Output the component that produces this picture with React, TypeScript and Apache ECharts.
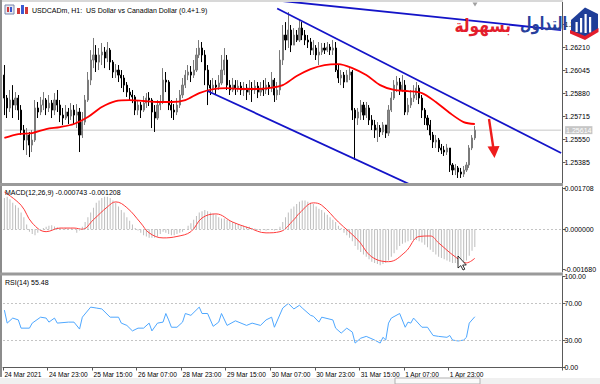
import React, { useEffect, useRef } from "react";
import * as echarts from "echarts";

const FONT = '"Liberation Sans", Arial, sans-serif';

const xTickLabels = ["24 Mar 2021", "24 Mar 23:00", "25 Mar 15:00", "26 Mar 07:00", "28 Mar 23:00", "29 Mar 15:00", "30 Mar 07:00", "30 Mar 23:00", "31 Mar 15:00", "1 Apr 07:00", "1 Apr 23:00"];
const priceTicks = [1.26375, 1.2621, 1.26045, 1.2588, 1.25715, 1.2555, 1.25385];
const macdTicks = [0.001708, 0, -0.00168];
const rsiTicks = [100, 70, 30, 0];
const bidPrice = 1.25614;

const firstOpen = 1.26009;
const closes = [
  1.25844, 1.25773, 1.2583, 1.25794, 1.25844, 1.25758, 1.25615, 1.25543, 1.25579, 1.25507,
  1.25543, 1.25773, 1.25744, 1.25794, 1.2583, 1.25773, 1.25808, 1.25758, 1.2583, 1.25794,
  1.25722, 1.25701, 1.25744, 1.25715, 1.25758, 1.25722, 1.25744, 1.25579, 1.25672, 1.2583,
  1.25973, 1.26117, 1.26153, 1.26102, 1.26153, 1.26174, 1.26131, 1.26188, 1.26102, 1.26031,
  1.26045, 1.26009, 1.25988, 1.25937, 1.25887, 1.25866, 1.25852, 1.25758, 1.25794, 1.25758,
  1.25808, 1.25844, 1.2583, 1.25744, 1.25701, 1.25794, 1.25816, 1.25973, 1.25959, 1.25794,
  1.25758, 1.25744, 1.25794, 1.25866, 1.25937, 1.26009, 1.26031, 1.26009, 1.26045, 1.26153,
  1.26203, 1.26153, 1.26045, 1.25937, 1.25916, 1.25937, 1.25923, 1.25952, 1.26045, 1.26117,
  1.25937, 1.25902, 1.25937, 1.25916, 1.2593, 1.25902, 1.25916, 1.25887, 1.25916, 1.25902,
  1.2593, 1.25887, 1.25916, 1.25902, 1.25937, 1.25916, 1.25973, 1.25866, 1.25902, 1.26117,
  1.26296, 1.2626, 1.26332, 1.26224, 1.26296, 1.2626, 1.26346, 1.26296, 1.2626, 1.26246,
  1.26188, 1.26203, 1.26153, 1.26174, 1.26203, 1.26188, 1.2621, 1.26188, 1.26203, 1.26045,
  1.25988, 1.26009, 1.25959, 1.26009, 1.26031, 1.25758, 1.25701, 1.25744, 1.25794, 1.25722,
  1.25773, 1.25687, 1.25651, 1.25615, 1.25629, 1.25601, 1.25651, 1.25593, 1.25758, 1.25844,
  1.25937, 1.25959, 1.25902, 1.25937, 1.25744, 1.25794, 1.25844, 1.25866, 1.25916, 1.25844,
  1.25758, 1.25701, 1.25651, 1.25579, 1.25529, 1.25543, 1.25486, 1.25471, 1.25457, 1.25486,
  1.25364, 1.25328, 1.25343, 1.25314, 1.25299, 1.25328, 1.25364, 1.25486, 1.25558, 1.25614,
];
const highs = [
  1.26081, 1.25866, 1.25902, 1.25937, 1.25887, 1.25866, 1.25794, 1.25651, 1.25629, 1.25601,
  1.25615, 1.2583, 1.25816, 1.25852, 1.25887, 1.25844, 1.25866, 1.2583, 1.2588, 1.25902,
  1.2583, 1.25773, 1.25794, 1.25773, 1.25808, 1.25794, 1.25801, 1.25773, 1.25744, 1.25866,
  1.26031, 1.26188, 1.26275, 1.26224, 1.26203, 1.26239, 1.2621, 1.26246, 1.26203, 1.26117,
  1.26088, 1.26081, 1.26045, 1.26009, 1.25959, 1.25916, 1.25902, 1.25866, 1.2583, 1.25816,
  1.25859, 1.2588, 1.25887, 1.25844, 1.25794, 1.2583, 1.25866, 1.26059, 1.26031, 1.25973,
  1.2583, 1.25801, 1.25844, 1.25902, 1.25988, 1.26045, 1.26081, 1.26074, 1.26117, 1.26203,
  1.2626, 1.26246, 1.26188, 1.26081, 1.25973, 1.25988, 1.25973, 1.26009, 1.26153, 1.26203,
  1.26153, 1.25973, 1.25988, 1.25973, 1.25973, 1.25959, 1.25959, 1.25945, 1.25973, 1.25959,
  1.25973, 1.25959, 1.25959, 1.25973, 1.25988, 1.25959, 1.26031, 1.25988, 1.25959, 1.26188,
  1.26368, 1.26389, 1.26461, 1.26368, 1.26346, 1.26332, 1.26404, 1.26389, 1.26332, 1.26296,
  1.26275, 1.2626, 1.26224, 1.26246, 1.26239, 1.26239, 1.26246, 1.26232, 1.2626, 1.26246,
  1.26081, 1.26045, 1.26031, 1.26045, 1.26059, 1.26045, 1.25773, 1.25773, 1.2583, 1.25816,
  1.25816, 1.25794, 1.25722, 1.25687, 1.25672, 1.25651, 1.25672, 1.25651, 1.25794, 1.25887,
  1.25973, 1.26002, 1.25988, 1.26009, 1.25973, 1.25844, 1.25902, 1.25937, 1.25959, 1.25937,
  1.25866, 1.25773, 1.25722, 1.25687, 1.25601, 1.25579, 1.25558, 1.25515, 1.255, 1.25515,
  1.25486, 1.25378, 1.25371, 1.25357, 1.25343, 1.25357, 1.25385, 1.25507, 1.25579, 1.25644,
];
const lows = [
  1.25722, 1.25701, 1.25744, 1.25701, 1.25758, 1.25687, 1.25579, 1.25471, 1.25436, 1.25421,
  1.25457, 1.25529, 1.25701, 1.25722, 1.25758, 1.25722, 1.25744, 1.25701, 1.25722, 1.25744,
  1.25672, 1.25651, 1.25687, 1.25658, 1.25687, 1.25651, 1.25629, 1.25457, 1.25558, 1.25651,
  1.25816, 1.25937, 1.26059, 1.26031, 1.26045, 1.26081, 1.26059, 1.26102, 1.26045, 1.25988,
  1.25988, 1.25959, 1.25916, 1.25887, 1.25852, 1.2583, 1.25808, 1.25722, 1.25722, 1.25701,
  1.25744, 1.25773, 1.25787, 1.25629, 1.25601, 1.25687, 1.25758, 1.25801, 1.25887, 1.25758,
  1.25701, 1.25687, 1.25722, 1.25773, 1.25844, 1.25916, 1.25973, 1.25959, 1.25988, 1.26031,
  1.26131, 1.26102, 1.25937, 1.25794, 1.25866, 1.25887, 1.25873, 1.25902, 1.25937, 1.26009,
  1.25902, 1.25866, 1.25887, 1.25866, 1.25887, 1.25866, 1.25859, 1.2583, 1.25866, 1.25816,
  1.25873, 1.25844, 1.25859, 1.25859, 1.25873, 1.25866, 1.25887, 1.25816, 1.2583, 1.25866,
  1.26081, 1.26188, 1.26203, 1.26174, 1.26224, 1.26246, 1.26246, 1.2626, 1.26224, 1.26203,
  1.26153, 1.26153, 1.26117, 1.26081, 1.26153, 1.2616, 1.26174, 1.26153, 1.26153, 1.26031,
  1.25952, 1.25937, 1.25916, 1.25959, 1.25973, 1.25687, 1.254, 1.25651, 1.25687, 1.25687,
  1.25701, 1.25651, 1.25615, 1.25558, 1.25529, 1.25565, 1.25579, 1.25558, 1.25572, 1.25744,
  1.2583, 1.25887, 1.25866, 1.25887, 1.25722, 1.25722, 1.25773, 1.25816, 1.2583, 1.25801,
  1.25701, 1.25651, 1.25615, 1.25543, 1.25486, 1.25486, 1.25457, 1.25443, 1.25429, 1.25436,
  1.25314, 1.25292, 1.25292, 1.25271, 1.25271, 1.25278, 1.25314, 1.25343, 1.25471, 1.25543,
];

const maBars = [0, 5, 10, 15, 20, 25, 30, 35, 40, 45, 50, 55, 60, 65, 70, 75, 80, 85, 90, 95, 100, 105, 110, 115, 120, 125, 130, 135, 140, 145, 150, 155, 160, 165, 169];
const maValues = [1.25558, 1.25586, 1.25593, 1.25622, 1.25636, 1.25658, 1.25708, 1.2578, 1.25823, 1.2583, 1.25823, 1.25816, 1.25816, 1.2583, 1.2588, 1.25909, 1.25916, 1.25909, 1.25909, 1.25916, 1.25937, 1.26002, 1.26052, 1.26081, 1.26088, 1.26059, 1.26009, 1.25937, 1.25902, 1.25894, 1.2588, 1.25816, 1.25737, 1.25672, 1.25658];

const macdHist = [
  0.0013, 0.00135, 0.00125, 0.0011, 0.001, 0.0009, 0.0007, 0.0005, 0.0002, -0.0001,
  -0.0002, -0.00025, -0.00015, -0.00005, 0.00005, 0.0001, 0.00015, 0.00017, 0.00012, 0.00008,
  0.00005, 0.00003, 0.00005, 0.00002, 0.00004, 0.00001, -0.00015, -0.00005, 0.0001, 0.0003,
  0.0005, 0.0007, 0.0009, 0.0011, 0.0012, 0.0013, 0.00135, 0.00135, 0.0013, 0.0012,
  0.0011, 0.00095, 0.0008, 0.0007, 0.0005, 0.00035, 0.0002, 0.00005, -0.00005, -0.00015,
  -0.00025, -0.0003, -0.00035, -0.00035, -0.00035, -0.0003, -0.0002, -0.0001, -0.00015, -0.0002,
  -0.00025, -0.00025, -0.0002, -0.00015, -0.0001, 0.0, 0.00015, 0.00025, 0.0004, 0.00055,
  0.0007, 0.00075, 0.0008, 0.00075, 0.0007, 0.00065, 0.0006, 0.0005, 0.00045, 0.00045,
  0.0004, 0.00035, 0.0003, 0.00025, 0.0002, 0.00015, 0.00015, 0.0001, 0.0001, 0.00005,
  0.00003, -0.00003, -0.00005, -0.00003, -0.00005, -0.00003, -0.00002, -0.00005, -0.00003, 0.0001,
  0.0003, 0.0005, 0.0007, 0.00085, 0.00095, 0.00105, 0.00115, 0.0012, 0.0012, 0.00115,
  0.0011, 0.00105, 0.00095, 0.00085, 0.0008, 0.0007, 0.0006, 0.0005, 0.0004, 0.0003,
  0.00015, 0.00005, -0.00015, -0.00025, -0.00035, -0.0005, -0.0007, -0.00085, -0.00095, -0.00105,
  -0.00115, -0.00125, -0.00135, -0.0014, -0.00145, -0.0015, -0.00145, -0.0014, -0.0013, -0.00115,
  -0.001, -0.00085, -0.0007, -0.0006, -0.00055, -0.0005, -0.00045, -0.00045, -0.00045, -0.0005,
  -0.00055, -0.00065, -0.00075, -0.00085, -0.00095, -0.00105, -0.00115, -0.0012, -0.00125, -0.0013,
  -0.00135, -0.0014, -0.0014, -0.00145, -0.00145, -0.0014, -0.0013, -0.0011, -0.0009, -0.000743,
];
const signalBars = [0, 6, 10, 15, 20, 25, 28, 32, 37, 40, 44, 49, 52, 57, 62, 67, 71, 76, 82, 88, 94, 99, 104, 106, 111, 114, 120, 127, 132, 138, 144, 149, 153, 156, 162, 166, 169];
const signalValues = [0.00155, 0.001, 0.00026, -0.0001, 0.00005, 0.00005, 0.0, 0.0004, 0.00093, 0.00114, 0.0009, 0.00026, -0.00015, -0.00036, -0.0003, -0.0001, 0.00047, 0.00064, 0.0003, 0.00005, -0.00015, -0.0001, 0.0004, 0.00067, 0.0011, 0.001, 0.0003, -0.00045, -0.00115, -0.00135, -0.00095, -0.0003, -0.00028, -0.00057, -0.00115, -0.0014, -0.001208];

const rsiBars = [0, 1, 3, 5, 6, 9, 10, 13, 15, 16, 18, 19, 23, 25, 27, 28, 31, 33, 35, 38, 41, 42, 44, 46, 48, 50, 52, 53, 55, 57, 58, 59, 60, 62, 64, 65, 67, 70, 71, 73, 75, 77, 78, 80, 83, 85, 87, 89, 92, 94, 96, 97, 100, 102, 104, 106, 107, 110, 111, 113, 114, 118, 119, 121, 123, 125, 126, 128, 130, 133, 135, 136, 137, 138, 139, 142, 144, 145, 146, 147, 150, 152, 154, 156, 159, 160, 161, 163, 165, 166, 167, 169];
const rsiValues = [62.7, 48.5, 54, 52, 43, 43, 48.5, 55, 54, 49.6, 54, 48.5, 49.6, 49.6, 42, 55, 66, 65, 64, 55, 55, 48.5, 46, 40, 43, 43, 48.5, 40, 48.5, 49.6, 59, 52, 44, 44, 49.6, 59, 57, 66, 59, 59, 45, 49.6, 59, 46, 51, 48.5, 46, 48.5, 46, 52, 55, 44, 65, 70, 64, 68, 65, 57, 56, 49.6, 55, 52, 43, 37.6, 43, 38.7, 26.7, 32, 34, 30, 26.7, 33, 30, 48.5, 54, 59, 44, 49.6, 48.5, 54, 44, 44, 35, 34, 33, 35, 30, 29, 30, 33, 48.5, 55.48];

const upperLineBars = [98, 156, 200];
const upperLinePrices = [1.26486, 1.25897, 1.2545];
const lowerLineBars = [73, 150];
const lowerLinePrices = [1.25895, 1.25185];
const topLineBars = [100, 200];
const topLinePrices = [1.2654, 1.26332];

const BAR_COUNT = 201;

function buildOption() {
  const cats = Array.from({ length: BAR_COUNT }, (_, i) => String(i));
  const candles = closes.map((c, i) => {
    const o = i === 0 ? firstOpen : closes[i - 1];
    return [o, c, Math.min(lows[i], o, c), Math.max(highs[i], o, c)];
  });
  const tickShow = (idx: number) => idx % 16 === 0 && idx / 16 < xTickLabels.length;
  const blue = "#1414c8";
  const gridW = 559.5;
  const hiddenX = (g: number) => ({
    type: "category", gridIndex: g, data: cats, boundaryGap: true,
    axisLine: { show: false }, axisTick: { show: false }, axisLabel: { show: false }, splitLine: { show: false },
  });
  const yBase = (g: number, min: number, max: number, ticks: number[], fmt: (v: number) => string) => ({
    type: "value", gridIndex: g, position: "right", min, max,
    axisLine: { show: true, lineStyle: { color: "#5a5a5a", width: 1 } },
    axisTick: { show: true, length: 3, inside: false, customValues: ticks, lineStyle: { color: "#5a5a5a" } },
    axisLabel: { customValues: ticks, formatter: fmt, fontSize: 7, fontFamily: FONT, color: "#000", margin: 2, hideOverlap: false },
    splitLine: { show: false },
  });
  const dashLevel = (vals: number[]) => ({
    silent: true, symbol: ["none", "none"], label: { show: false },
    lineStyle: { color: "#c4c4c4", type: [2, 2], width: 1 },
    data: vals.map((v) => ({ yAxis: v })),
  });
  const ARFONT = '"DejaVu Sans", sans-serif';

  const graphics: any[] = [
    { type: "rect", z: 100, shape: { x: 0, y: 0, width: 563, height: 2 }, style: { fill: "#d8d8d8" } },
    { type: "rect", z: 100, shape: { x: 0, y: 0, width: 2, height: 377 }, style: { fill: "#8c8c8c" } },
    { type: "rect", z: 100, shape: { x: 0, y: 183, width: 563, height: 3 }, style: { fill: "#9a9a9a" } },
    { type: "rect", z: 100, shape: { x: 0, y: 272.5, width: 563, height: 3 }, style: { fill: "#9a9a9a" } },
    { type: "rect", z: 100, shape: { x: 0, y: 378, width: 600, height: 6 }, style: { fill: "#f0f0f0" } },
    { type: "rect", z: 101, shape: { x: 395, y: 378, width: 85, height: 6 }, style: { fill: "#fafafa", stroke: "#b0b0b0", lineWidth: 1 } },
    { type: "rect", z: 100, shape: { x: 5, y: 5, width: 9, height: 9 }, style: { fill: "#e6e8f2", stroke: "#7a86a8", lineWidth: 1 } },
    { type: "rect", z: 101, shape: { x: 7, y: 7, width: 2, height: 5 }, style: { fill: "#d23a3a" } },
    { type: "rect", z: 101, shape: { x: 10, y: 7, width: 2, height: 5 }, style: { fill: "#3a5ad2" } },
    { type: "rect", z: 100, shape: { x: 17, y: 8, width: 3, height: 6 }, style: { fill: "#d23a3a" } },
    { type: "rect", z: 100, shape: { x: 21, y: 5, width: 3, height: 9 }, style: { fill: "#3a5ad2" } },
    { type: "rect", z: 100, shape: { x: 25, y: 7, width: 3, height: 7 }, style: { fill: "#d23a3a" } },
    { type: "text", z: 100, x: 32, y: 10, style: { text: "USDCADm, H1:  US Dollar vs Canadian Dollar (0.4+1.9)", fontSize: 7, fontFamily: FONT, fill: "#000", textVerticalAlign: "middle" } },
    { type: "text", z: 100, x: 5, y: 192, style: { text: "MACD(12,26,9) -0.000743 -0.001208", fontSize: 7, fontFamily: FONT, fill: "#000", textVerticalAlign: "middle" } },
    { type: "text", z: 100, x: 5, y: 282, style: { text: "RSI(14) 55.48", fontSize: 7, fontFamily: FONT, fill: "#000", textVerticalAlign: "middle" } },
    { type: "polygon", z: 100, shape: { points: [[472.5, 2.5], [477.5, 2.5], [475, 6.5]] }, style: { fill: "#a0a0a0" } },
    { type: "polyline", z: 100, shape: { points: [[489, 119], [493.5, 149]] }, style: { stroke: "#ee1c1c", lineWidth: 2.4 } },
    { type: "polygon", z: 100, shape: { points: [[487.5, 146.5], [499.5, 146], [494.5, 158]] }, style: { fill: "#ee1c1c" } },
    { type: "polygon", z: 100, shape: { points: [[458, 256], [458, 268], [460.8, 265.6], [463, 270], [464.8, 269.2], [462.7, 265], [466.3, 265]] }, style: { fill: "#fff", stroke: "#000", lineWidth: 0.8 } },
    { type: "polygon", z: 110, shape: { points: [[571, 20], [585, 7.5], [598, 14], [598, 30], [585, 37], [571, 31]] }, style: { fill: "#1f3e98" } },
    { type: "rect", z: 111, shape: { x: 575.5, y: 22, width: 2.2, height: 10 }, style: { fill: "#fff" } },
    { type: "rect", z: 111, shape: { x: 580, y: 18, width: 2.2, height: 14.5 }, style: { fill: "#fff" } },
    { type: "rect", z: 111, shape: { x: 584.5, y: 14, width: 2.2, height: 19 }, style: { fill: "#fff" } },
    { type: "rect", z: 111, shape: { x: 589, y: 17, width: 2.2, height: 15.5 }, style: { fill: "#fff" } },
    { type: "polygon", z: 111, shape: { points: [[570, 30], [585, 36], [598.5, 28], [598.5, 32], [585, 40], [570, 33.5]] }, style: { fill: "#e31d2c" } },
    { type: "text", z: 110, x: 567, y: 24, scaleX: 0.74, style: { text: "التداول", fontSize: 18, fontWeight: "bold", fontFamily: ARFONT, fill: "#27409c", textAlign: "right", textVerticalAlign: "middle" } },
    { type: "text", z: 110, x: 511, y: 26, scaleX: 0.86, style: { text: "بسهولة", fontSize: 18, fontWeight: "bold", fontFamily: ARFONT, fill: "#e31d2c", textAlign: "right", textVerticalAlign: "middle" } },
  ];

  return {
    animation: false,
    backgroundColor: "#ffffff",
    textStyle: { fontFamily: FONT },
    grid: [
      { left: 3, top: 2, width: gridW, height: 181 },
      { left: 3, top: 187, width: gridW, height: 85 },
      { left: 3, top: 276, width: gridW, height: 91.5 },
    ],
    xAxis: [
      hiddenX(0),
      hiddenX(1),
      {
        type: "category", gridIndex: 2, data: cats, boundaryGap: true,
        axisLine: { show: true, lineStyle: { color: "#5a5a5a" } },
        axisTick: { show: true, length: 3, interval: (i: number) => tickShow(i), lineStyle: { color: "#5a5a5a" } },
        axisLabel: {
          show: true, interval: (i: number) => tickShow(i), align: "left", margin: 3,
          fontSize: 6.6, fontFamily: FONT, color: "#000",
          formatter: (_v: string, i: number) => xTickLabels[i / 16] ?? "",
        },
        splitLine: { show: false },
      },
    ],
    yAxis: [
      yBase(0, 1.25235, 1.26533, priceTicks, (v: number) => v.toFixed(5)),
      yBase(1, -0.00178, 0.00176, macdTicks, (v: number) => v.toFixed(6)),
      yBase(2, 0, 100, rsiTicks, (v: number) => v.toFixed(2)),
    ],
    graphic: graphics,
    series: [
      {
        type: "line", xAxisIndex: 0, yAxisIndex: 0, showSymbol: false, z: 1,
        data: topLineBars.map((b, i) => [b, topLinePrices[i]]),
        lineStyle: { color: blue, width: 1.8 },
      },
      {
        type: "line", xAxisIndex: 0, yAxisIndex: 0, showSymbol: false, z: 1,
        data: [[0, bidPrice], [BAR_COUNT - 1, bidPrice]],
        lineStyle: { color: "#c6c6c6", width: 1 },
        markPoint: {
          silent: true, symbol: "rect", symbolSize: [0, 0],
          label: { show: true, position: "right", formatter: bidPrice.toFixed(5), backgroundColor: "#c6c6c6", color: "#ffffff", fontSize: 7, fontFamily: FONT, padding: [1, 1, 0, 1], distance: 4 },
          data: [{ coord: [BAR_COUNT - 1, bidPrice] }],
        },
      },
      {
        type: "candlestick", xAxisIndex: 0, yAxisIndex: 0, data: candles, barWidth: 1.6, z: 3,
        itemStyle: { color: "#8a8a8a", color0: "#000000", borderColor: "#7a7a7a", borderColor0: "#000000", borderWidth: 1 },
      },
      {
        type: "line", xAxisIndex: 0, yAxisIndex: 0, showSymbol: false, smooth: 0.3, z: 4,
        data: maBars.map((b, i) => [b, maValues[i]]),
        lineStyle: { color: "#ff0000", width: 1.8 },
      },
      {
        type: "line", xAxisIndex: 0, yAxisIndex: 0, z: 5, symbol: "rect", symbolSize: 5,
        data: upperLineBars.map((b, i) => ({ value: [b, upperLinePrices[i]], symbol: i < 2 ? "rect" : "none" })),
        itemStyle: { color: "#000" },
        lineStyle: { color: blue, width: 1.8 },
      },
      {
        type: "line", xAxisIndex: 0, yAxisIndex: 0, showSymbol: false, z: 5,
        data: lowerLineBars.map((b, i) => [b, lowerLinePrices[i]]),
        lineStyle: { color: blue, width: 1.8 },
      },
      {
        type: "bar", xAxisIndex: 1, yAxisIndex: 1, data: macdHist, barWidth: 1,
        itemStyle: { color: "#bdbdbd" },
        markLine: dashLevel([0]),
      },
      {
        type: "line", xAxisIndex: 1, yAxisIndex: 1, showSymbol: false, smooth: 0.4,
        data: signalBars.map((b, i) => [b, signalValues[i]]),
        lineStyle: { color: "#ff3b3b", width: 1 },
      },
      {
        type: "line", xAxisIndex: 2, yAxisIndex: 2, showSymbol: false,
        data: rsiBars.map((b, i) => [b, rsiValues[i]]),
        lineStyle: { color: "#4ea7ff", width: 1 },
        markLine: dashLevel([70, 30]),
      },
    ],
  };
}

export default function App() {
  const ref = useRef<HTMLDivElement>(null);
  useEffect(() => {
    if (!ref.current) return;
    const chart = echarts.init(ref.current, null, { renderer: "svg" });
    chart.setOption(buildOption() as any);
    return () => chart.dispose();
  }, []);
  return <div ref={ref} style={{ position: "absolute", left: 0, top: 0, width: 600, height: 384, background: "#fff" }} />;
}
